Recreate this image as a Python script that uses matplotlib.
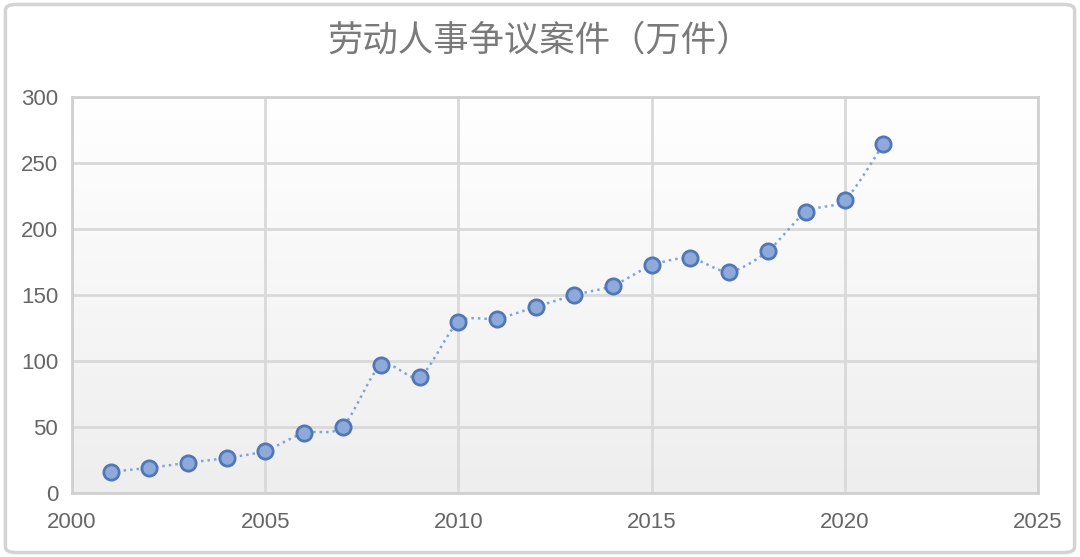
import numpy as np
import matplotlib
matplotlib.use("Agg")
import matplotlib.pyplot as plt
from matplotlib.patches import FancyBboxPatch
from matplotlib.colors import LinearSegmentedColormap

years = [2001, 2002, 2003, 2004, 2005, 2006, 2007, 2008, 2009, 2010, 2011,
         2012, 2013, 2014, 2015, 2016, 2017, 2018, 2019, 2020, 2021]
cases = [16, 19, 23, 26.5, 32, 45.5, 50, 97, 88, 129.5, 132,
         141, 150, 157, 172.5, 178, 167.5, 183, 213, 222, 264]
title = "劳动人事争议案件（万件）"
xticks = [2000, 2005, 2010, 2015, 2020, 2025]
yticks = [0, 50, 100, 150, 200, 250, 300]

plt.rcParams['font.family'] = ['Liberation Sans', 'Noto Sans CJK SC', 'DejaVu Sans']

fig = plt.figure(figsize=(10.8, 5.57), dpi=100)
fig.patch.set_facecolor('white')
border = FancyBboxPatch((0.005, 0.008), 0.99, 0.984, boxstyle="round,pad=0,rounding_size=0.01",
                        transform=fig.transFigure, facecolor='none', edgecolor='#d4d4d4', lw=2.5)
fig.patches.append(border)

ax = fig.add_axes([0.0667, 0.1149, 0.8944, 0.7110])
ax.set_xlim(2000, 2025)
ax.set_ylim(0, 300)

# gradient background
grad = np.linspace(0, 1, 256).reshape(-1, 1)
cmap = LinearSegmentedColormap.from_list('g', ['#eeeeee', '#ffffff'])
ax.imshow(grad, extent=[2000, 2025, 0, 300], origin='lower', aspect='auto', cmap=cmap, zorder=0)

ax.set_xticks(xticks)
ax.set_yticks(yticks)
ax.grid(True, color='#d9d9d9', lw=2, zorder=1)
for s in ax.spines.values():
    s.set_color('#d0d0d0')
    s.set_linewidth(2)
ax.tick_params(length=0, labelsize=16, colors='#666666')
ax.tick_params(axis='y', pad=10)
ax.tick_params(axis='x', pad=14)
ax.set_axisbelow(True)

# smooth curve (cardinal spline) through the points
x = np.array(years, float)
y = np.array(cases, float)
px = np.concatenate([[2*x[0]-x[1]], x, [2*x[-1]-x[-2]]])
py = np.concatenate([[2*y[0]-y[1]], y, [2*y[-1]-y[-2]]])
sx, sy = [], []
t = np.linspace(0, 1, 30)
for i in range(1, len(px)-2):
    for arr, out in ((px, sx), (py, sy)):
        p0, p1, p2, p3 = arr[i-1], arr[i], arr[i+1], arr[i+2]
        m1 = (p2 - p0) / 2 * 0.8
        m2 = (p3 - p1) / 2 * 0.8
        h00 = 2*t**3 - 3*t**2 + 1
        h10 = t**3 - 2*t**2 + t
        h01 = -2*t**3 + 3*t**2
        h11 = t**3 - t**2
        out.extend(h00*p1 + h10*m1 + h01*p2 + h11*m2)
ax.plot(sx, sy, color='#7fa6d9', lw=1.8, ls=(0, (1, 1.6)), zorder=3)
ax.plot(x, y, 'o', ms=11, mfc='#8eaadb', mec='#5277b6', mew=2, zorder=4, ls='none')

fig.text(0.5, 0.927, title, ha='center', va='center', fontsize=25.5, color='#7a7a7a',
         family=['Noto Sans CJK SC', 'DejaVu Sans'], fontweight='light')

fig.savefig('out.png', dpi=100)
